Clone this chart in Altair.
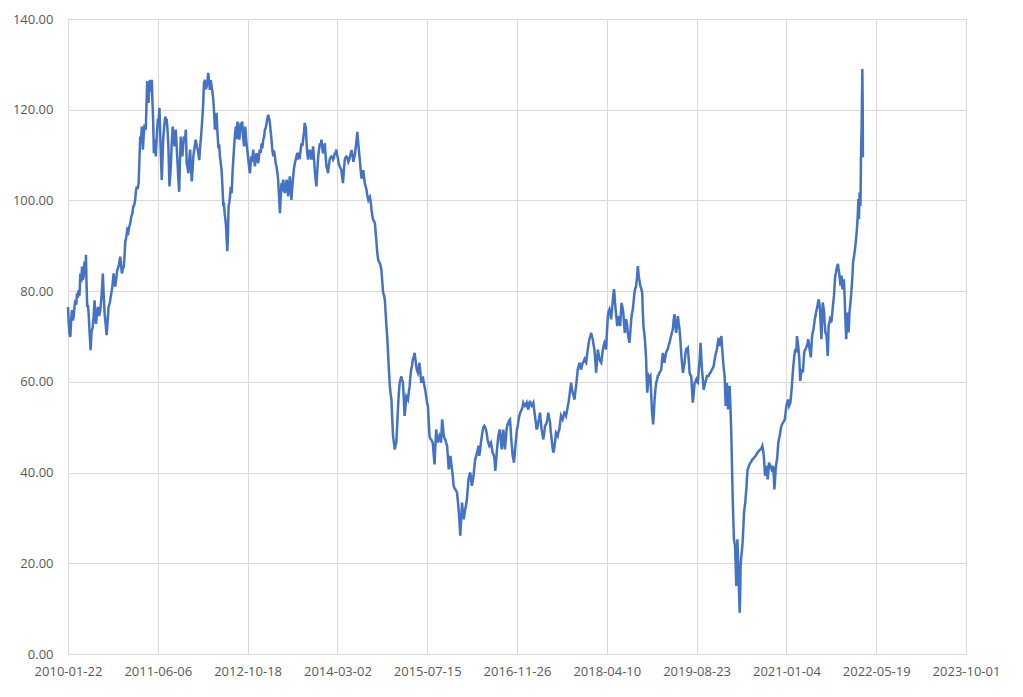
import altair as alt
import pandas as pd

# Day offsets from 2010-01-22 and the price read at each one
day_offsets = [
0,4,9,13,18,22,27,31,36,41,46,50,55,59,64,69,74,78,83,87,92,96,100,103,107,111,115,120,126,131,137,142,148,152,156,161,167,173,180,187,194,199,204,209,215,220,226,233,241,247,254,258,263,268,274,282,291,295,300,306,311,315,319,325,330,336,341,347,352,358,363,369,374,378,383,388,393,397,402,406,411,417,421,426,433,437,441,445,448,452,457,462,467,470,474,478,483,489,494,500,505,509,512,515,519,522,526,530,535,541,545,550,555,559,565,570,574,578,583,588,593,597,600,605,609,614,619,623,628,632,637,641,646,651,656,661,665,670,675,680,685,689,694,698,704,711,717,722,727,731,736,741,748,753,757,
763,768,772,777,781,786,790,795,800,804,809,814,818,823,827,832,837,842,846,851,855,860,865,868,872,876,880,884,887,891,894,898,902,906,911,914,917,922,926,931,935,940,944,949,954,958,961,965,970,975,980,984,987,991,994,999,1004,1008,1013,1017,1020,1026,1031,1036,1041,1045,1050,1055,1059,1064,1068,1073,1078,1082,1087,1092,1096,1101,1106,1110,1115,1120,1124,1129,1133,1138,1143,1147,1152,1157,1161,1166,1170,1175,1180,1184,1189,1193,1198,1203,1207,1212,1217,1221,1226,1230,1235,1240,1244,1249,1254,1258,1263,1268,1272,1277,1281,1286,1291,1295,1300,1305,1309,1314,1318,1321,1324,1328,1332,1337,1341,1346,1351,1356,1360,1365,1370,1374,1379,1383,1388,1393,1397,1402,1407,1411,1416,1420,1425,1430,1434,1439,1443,1448,1452,1457,1462,1467,1471,1476,1481,1485,1490,1494,1499,1504,1508,1513,1518,1522,1527,1531,1536,1541,1545,1550,1555,
1561,1566,1570,1575,1579,1584,1589,1594,1598,1603,1607,1611,1614,1618,1621,1625,1630,1635,1640,1644,1649,1653,1658,1662,1667,1672,1676,1681,1686,1690,1695,1699,1704,1709,1713,1718,1722,1727,1731,1736,1741,1745,1750,1755,1760,1764,1769,1773,1778,1782,1787,1792,1796,1801,1805,1810,1815,1819,1824,1828,1833,1838,1842,1847,1851,1856,1860,1865,1870,1874,1879,1884,1888,1893,1897,1902,1906,1911,1915,1920,1925,1930,1934,1939,1943,1948,1952,1957,1962,1967,1971,1976,1980,1985,1990,1994,1999,2004,2008,2013,2017,2022,2026,2031,2036,2041,2045,2050,2054,2059,2063,2068,2073,2077,2080,2083,2088,2092,2097,2101,2106,2111,2115,2120,2125,2129,2134,2138,2143,2147,2152,2157,2161,2166,2170,2175,2180,2184,2189,2194,2198,2203,2208,2212,2217,2221,2226,2230,2235,2240,2244,2249,2253,2258,2262,2267,2272,2277,2281,2286,
2290,2295,2299,2304,2309,2313,2318,2323,2327,2332,2336,2341,2346,2350,2355,2360,2364,2369,2374,2379,2383,2387,2392,2396,2401,2405,2410,2415,2420,2424,2429,2433,2438,2442,2447,2452,2457,2461,2465,2468,2472,2476,2480,2483,2487,2491,2496,2500,2505,2509,2513,2517,2522,2526,2531,2535,2540,2544,2549,2554,2558,2563,2567,2572,2577,2581,2586,2591,2595,2600,2605,2609,2614,2618,2623,2628,2632,2637,2642,2646,2651,2656,2660,2665,2670,2674,2679,2684,2688,2693,2698,2702,2706,2710,2714,2717,2722,2727,2731,2736,2740,2745,2750,2754,2759,2764,2768,2773,2778,2783,2787,2792,2797,2801,2806,2810,2815,2820,2824,2829,2834,2838,2843,2848,2852,2857,2861,2866,2871,2876,2880,2885,2889,2894,2899,2903,2908,2913,2917,2922,2927,2931,2936,2941,2945,2950,2955,2959,2964,2969,2973,2978,2983,2987,2992,2996,3001,3006,3010,3015,3020,3024,3029,3034,3037,3041,3045,3049,3054,3058,3062,3067,3071,3075,3078,3082,3087,3092,3096,3100,3104,3108,3113,3117,3122,3126,3131,3136,3140,3145,3150,3154,3158,3163,3168,3173,
3178,3183,3187,3192,3197,3200,3204,3208,3212,3216,3219,3222,3225,3230,3234,3238,3243,3247,3251,3255,3258,3262,3266,3270,3275,3280,3284,3289,3293,3298,3303,3307,3312,3316,3321,3326,3330,3335,3340,3344,3349,3354,3358,3363,3368,3372,3377,3382,3386,3391,3396,3400,3405,3410,3414,3419,3424,3428,3433,3437,3442,3447,3451,3456,3461,3465,3470,3475,3479,3484,3489,3493,3498,3502,3507,3512,3517,3522,3526,3530,3535,3539,3544,3548,3553,3558,3562,3567,3571,3576,3581,3585,3590,3595,3599,3604,3609,3613,3618,3623,3626,3630,3634,3638,3642,3647,3651,3656,3659,3662,3666,3669,3672,3675,3680,3684,3687,3690,3693,3695,3698,3701,3705,3708,3711,3714,3718,3721,3724,3727,3730,3732,3736,3740,3743,3745,3749,3753,3756,3758,3761,3764,3768,3771,3774,3777,3780,3784,3788,3792,3797,3801,3806,3810,3815,3820,3824,3829,3834,3838,3843,3847,3852,3857,3862,3866,3870,3874,3878,3881,3885,3888,3892,3896,3900,3903,3907,3911,3915,3918,3922,3926,3930,3933,3937,3940,3944,3948,3952,3955,3959,3963,3968,3972,3977,3981,3986,3991,3995,4000,4005,4009,
4015,4018,4022,4026,4029,4033,4037,4040,4044,4047,4050,4055,4059,4062,4066,4069,4072,4075,4077,4081,4085,4088,4092,4095,4099,4103,4107,4110,4114,4118,4121,4125,4129,4132,4136,4140,4143,4147,4151,4154,4158,4162,4165,4169,4173,4176,4180,4184,4187,4191,4195,4199,4202,4206,4210,4213,4217,4221,4224,4227,4230,4233,4235,4239,4243,4246,4250,4254,4257,4261,4265,4268,4272,4276,4279,4283,4287,4290,4294,4298,4301,4304,4307,4310,4312,4316,4320,4324,4327,4330,4333,4336,4338,4342,4346,4349,4351,4354,4357,4361,4364,4368,4371,4374,4377,4381,4384,4388,4391,4394,4397,4399,4401,4403,4404,4406,4408,4410,4412,4414,4415,4417,4419,4421,4423,4424,4425,4426,
]

prices = [
76.5,73,70.5,69.9,74,75.8,73.5,74.3,76.5,78,77,79.5,78.5,80.2,79,83.9,82,85.4,82.5,83.2,86.5,84,88,82,76.5,77,75,71,67,71,72,74,78,75,72.8,75,76.5,74.5,75.8,79,83.9,79,75,73,70.3,73,76.5,77.5,79.5,81,83.9,82,81,82.5,84.6,85.5,87.6,86,83.9,85,85.4,88,90.9,92,93.5,93,94.2,95,96.4,97,98.6,99,100.1,102,103.1,102.5,103.8,108,114.1,113,116.3,111.2,114,116.7,115.6,121,126.3,124,121.5,124,126.6,124,126.6,122,117.8,110.4,113.4,109.7,114,117.8,118,120.4,117,112.6,108,104.5,109,113.4,116,118.5,118,117.8,115,111.9,103.1,106,108.9,113,116.3,114,111.9,113.5,115.6,112,108.9,105,101.9,108,114.1,111,109.7,112,114.1,113,115.6,108.2,107.5,106,109,111.2,107,104.2,107,109.7,111.5,113.4,112,111.2,110,108.9,112,114.1,118.2,121.5,125.9,
126.6,124.5,125.1,126.5,128.1,126,124.4,126.5,125.1,124,122.2,119,115.6,118,119.3,115,111.9,112,109.7,108,106.8,103,98.7,99.5,97.2,96,94.3,91,88.8,93,98.7,99.5,100.9,103,101.6,104,106.8,110,112.6,115,116.3,113.5,117.4,115,113.4,115,117.1,116,117.4,114,111.9,114,116.3,114,112.6,111,109,107.5,106,108,109.7,108.5,111.2,109,107.5,109.5,110.4,109,108.2,110,111.2,110.5,112.6,111.5,113.4,114,115.6,116,117.1,118,118.9,118,117.1,115,113.4,111,109.7,111,109.7,108,107.5,106,104.6,101,97.2,100.5,103.8,102,104.6,103,101.6,103,104.6,102.5,100.9,103,105.3,103,100.1,103,105.3,107,108.2,109,109.7,110.5,109,110,109.7,111,112.6,112,113.4,115,117.1,116.5,116.3,113,110.4,109,110,111.2,110,109,110.5,111.9,109,106.8,104.5,103.1,106.5,109.7,111,112.6,112,113.4,111.5,110.4,111.5,112.6,110,107.5,107,106,107.5,109,109.5,109.7,109.5,109,109.5,110.4,110.5,111.2,110,109,108,107.5,107,106.8,105,103.8,106.5,109,109.5,109.7,109.5,
108.5,109,109.6,110.5,111.1,110,108.5,109.5,110.3,112,113.5,115.1,113.5,111.8,110.5,108.9,106.5,104.8,105.5,106.7,105,103.7,103,102.3,101,100.1,100.5,100.8,99.5,97.9,96.5,95.7,95.5,94.9,93,90.5,88.5,86.9,86.5,86.2,85.5,84.7,82,79.6,79,78.1,75,72.2,69.5,66.4,62.5,59.0,57.5,56.1,52,48.1,46.5,45.1,46,46.6,50.5,54.7,57.5,59.8,60.5,61.2,60.5,59.8,56,52.5,54.5,56.8,56.5,56.1,57.5,59.0,61,62.7,63.5,64.9,65.5,66.4,65,63.4,62.5,62.0,63,64.2,62,59.8,60.5,61.2,60,59.0,58,56.8,55.5,54.7,51.5,48.1,47.5,47.3,47,46.6,44,41.8,45.5,49.5,48,46.6,47.5,48.1,47.5,46.6,49,51.7,50,48.1,47.5,47.3,46.5,45.9,43.5,40.7,42,43.7,42,40.7,39,37.1,36.5,36.3,36,35.6,34,31.9,29,26.1,29.5,33.4,31.5,29.7,31,31.9,33,34.1,36.5,38.5,39.5,40.0,38.5,37.1,38,39.3,41,42.9,43.5,44.4,45,45.9,
43.7,45,46.6,48,49.2,50,50.3,50,49.5,48.5,47.3,46.5,45.9,46.2,46.6,45.5,44.4,44,43.3,40.4,42,44.4,46.5,48.1,49,49.5,47,45.1,47.5,49.5,47,45.1,47.5,49.5,50.5,51.0,51.5,51.7,49.5,47.3,45.5,43.7,43,42.2,44,45.9,48,49.5,50.5,51.7,52.5,53.2,53.5,53.9,54.5,55.4,55,54.7,55,55.4,54.5,53.9,55,55.8,55,54.7,55,55.4,54,52.5,51,49.5,50,51.0,52,53.2,51.5,49.5,48.5,47.3,48.5,50.3,50.5,51.0,52,53.2,52,51.0,49,47.3,45.5,44.4,45,46.2,47.5,48.8,48.5,48.1,49,49.5,51,52.5,52,51.7,52.5,53.2,53,52.5,53.5,54.7,55.5,56.9,58.5,59.8,58.5,57.6,57,56.1,57.5,59.1,61,62.7,63.5,64.2,63.5,62.7,63.5,64.2,64.5,65.0,64.5,64.2,65.5,67.1,68.5,69.4,70,70.8,70,69.4,68,67.1,64.5,62.0,64.5,67.1,66,65.0,64.5,64.2,65.5,67.1,68,68.6,68,67.1,71,74.5,75.5,76.0,75,73.8,76,78.2,79.5,80.4,78,76.0,74,72.3,73.5,74.5,73.5,72.3,75,77.4,76.5,75.2,73,70.8,72.5,73.8,72.5,70.8,69.5,68.6,71,73.8,75,76.0,78,79.6,80.5,81.1,83,85.5,
83.3,82,81.1,80.5,79.6,76,72.3,71,69.4,67,64.9,61,57.6,59.5,61.3,61,61.3,57.5,53.9,52,50.6,53,56.1,58,59.8,60.5,61.3,61.5,62.0,62.3,62.7,64.5,66.4,65,64.2,65.5,66.4,67,67.2,68,68.6,69.5,70.1,71,71.6,73.5,74.9,72.5,70.8,72.5,74.5,73,71.6,69,66.4,64,62.0,63,64.2,66,67.2,67.3,67.5,65,62.0,61.5,61.3,58,55.4,57.5,59.8,60,60.5,60,59.8,62.5,64.9,68.6,65.5,62.7,60.5,58.3,59,59.8,60.5,61.3,61.3,61.3,61.7,62.0,62.3,62.7,63,63.5,64.5,65.7,66.5,67.2,68.5,69.7,68.8,67.9,69,70.1,67.5,64.9,63,61.3,58,54.7,57,59.8,57,53.9,56.5,59.1,56,52.5,49,45.1,40,34.1,29,25.3,24.5,23.8,19,15.0,20,25.3,22,19.4,14,9.1,14,19.4,21.5,23.1,24.5,26.0,28.5,31.2,32.5,33.4,35,36.3,38.5,40.7,41,41.5,42,42.2,42.5,42.9,43,43.3,43.5,43.7,44,44.4,44.5,44.8,45,45.1,45.5,45.9,45,43.7,41.5,39.3,40.5,41.5,40,38.5,40.5,42.2,41.8,41.5,41,40.7,41,41.5,39,36.3,38.5,40.7,42,42.9,45,46.6,47.5,48.1,49.5,50.3,50.7,51.0,51.3,51.7,53,54.7,55.5,56.1,
54.7,55,55.4,57,58.4,60.5,62.8,64,65.7,66.5,67.2,66.5,70.1,69,67.9,66.5,65.0,62,60.2,61.5,62.8,62.5,62.1,64,66.5,67,67.2,67.5,67.9,68.5,69.4,68.5,67.2,66.5,65.4,68,70.1,71,71.6,72.5,73.8,74.5,75.3,76,76.8,77.5,78.2,77,76.0,72.5,69.4,74,77.5,76.5,75.3,73,70.9,70.5,70.1,68,65.7,69,72.4,73,73.8,73.5,73.1,74.5,76.0,77.5,79.0,81,83.4,84,84.9,85.5,86.0,85,84.1,82.5,81.2,82.5,83.4,82,80.4,81.5,82.6,79,75.3,72.5,69.4,72,75.3,73,70.9,73,75.3,76.5,77.5,79.5,81.2,83.5,86.3,87,87.8,89,90.0,91.5,92.9,94.5,96.6,98.5,100.3,97,95.9,99,101.8,100,98.8,104,109.1,113,116.5,123,129.0,124,120.1,109.5,
]

x_tick_labels = ["2010-01-22", "2011-06-06", "2012-10-18", "2014-03-02", "2015-07-15",
                 "2016-11-26", "2018-04-10", "2019-08-23", "2021-01-04", "2022-05-19", "2023-10-01"]
y_ticks = [0, 20, 40, 60, 80, 100, 120, 140]

start = pd.Timestamp("2010-01-22")
df = pd.DataFrame({
    "date": start + pd.to_timedelta(day_offsets, unit="D"),
    "price": prices,
})


def to_dt(s):
    y, m, d = (int(p) for p in s.split("-"))
    return alt.DateTime(year=y, month=m, date=d)


x_vals = [to_dt(s) for s in x_tick_labels]

chart = alt.Chart(df).mark_line(color="#4472C4", strokeWidth=2.5).encode(
    x=alt.X("date:T",
            scale=alt.Scale(domain=[x_vals[0], x_vals[-1]]),
            axis=alt.Axis(values=x_vals, format="%Y-%m-%d", title=None,
                          ticks=False, domain=False, labelPadding=11,
                          labelFlush=False, labelOverlap=False,
                          gridColor="#d9d9d9", gridWidth=1)),
    y=alt.Y("price:Q",
            scale=alt.Scale(domain=[0, 140], nice=False, zero=True),
            axis=alt.Axis(values=y_ticks, format=".2f", title=None,
                          ticks=False, domain=False, labelPadding=15,
                          labelFlush=False,
                          gridColor="#d9d9d9", gridWidth=1)),
).properties(
    width=898,
    height=635,
    autosize=alt.AutoSizeParams(type="none"),
    padding={"left": 60, "top": 11, "right": 40, "bottom": 35},
    background="white",
).configure_axis(
    labelFont="Open Sans",
    labelFontSize=13,
    labelColor="#595959",
).configure_view(
    strokeWidth=0,
)

chart.save("out.html", embed_options={"renderer": "svg", "actions": False})
